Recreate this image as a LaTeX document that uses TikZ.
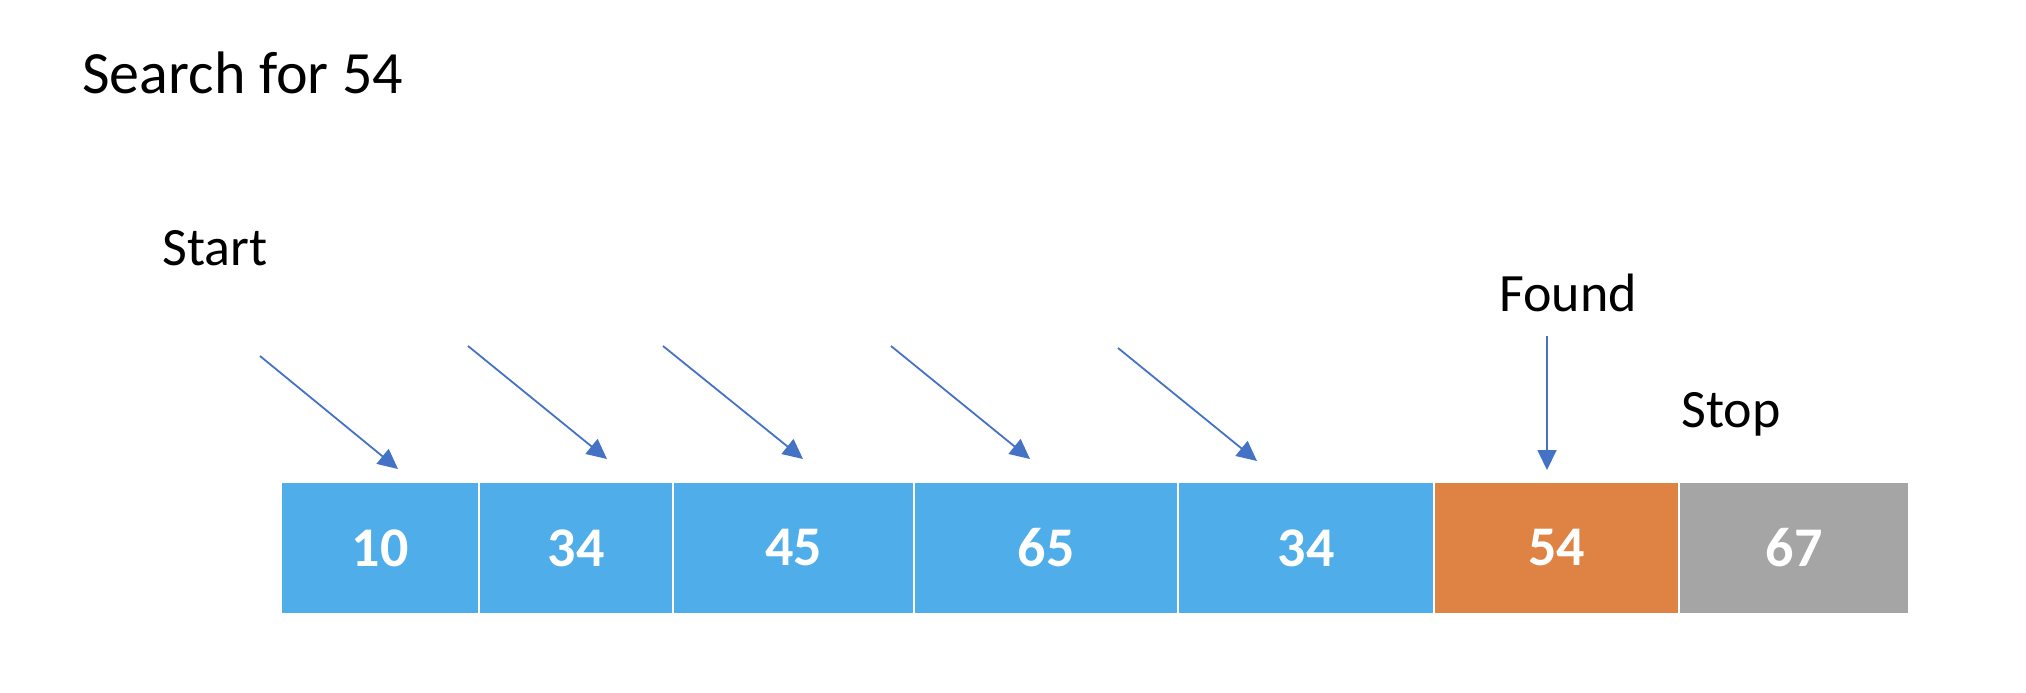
\documentclass[tikz,border=0pt]{standalone}
\usepackage{fontspec}
\setmainfont{Carlito}
\usetikzlibrary{arrows.meta}
\definecolor{cellblue}{RGB}{79,173,234}
\definecolor{cellorange}{RGB}{223,131,68}
\definecolor{cellgray}{RGB}{165,165,165}
\definecolor{arrowblue}{RGB}{68,114,196}
\begin{document}
\begin{tikzpicture}[x=0.5pt,y=-0.5pt,
  cell/.style={draw=white,line width=1pt,inner sep=0pt,outer sep=0pt,
    minimum height=66pt,text=white,font=\fontsize{28}{32}\selectfont\bfseries},
  ptr/.style={draw=arrowblue,line width=0.9pt,-{Triangle[length=10pt,width=9.5pt]}},
  lbl/.style={anchor=base west,inner sep=0pt,font=\fontsize{27}{31}\selectfont},
  title/.style={anchor=base west,inner sep=0pt,font=\fontsize{30}{34}\selectfont}]
\path[use as bounding box] (0,0) rectangle (2026,692);

\node[title] (ttl) at (82,93) {Search for 54};
\node[lbl] (start) at (162,265) {Start};
\node[lbl] (found) at (1499,311) {Found};
\node[lbl] (stop) at (1681,427) {Stop};

\node[cell,fill=cellblue,minimum width=99pt]    (b1) at (380,548) {10};
\node[cell,fill=cellblue,minimum width=97pt]    (b2) at (576,548) {34};
\node[cell,fill=cellblue,minimum width=120.5pt] (b3) at (793.5,548) {45};
\node[cell,fill=cellblue,minimum width=132pt]   (b4) at (1046,548) {65};
\node[cell,fill=cellblue,minimum width=128pt]   (b5) at (1306,548) {34};
\node[cell,fill=cellorange,minimum width=122.5pt] (b6) at (1556.5,548) {54};
\node[cell,fill=cellgray,minimum width=115pt]   (b7) at (1794,548) {67};

\coordinate (s1) at (260,356);  \coordinate (t1) at (398,469);
\coordinate (s2) at (468,346);  \coordinate (t2) at (607,459);
\coordinate (s3) at (663,346);  \coordinate (t3) at (803,459);
\coordinate (s4) at (891,346);  \coordinate (t4) at (1030,459);
\coordinate (s5) at (1118,348); \coordinate (t5) at (1257,461);
\coordinate (s6) at (1547,336); \coordinate (t6) at (1547,470);

\draw[ptr] (s1) -- (t1);
\draw[ptr] (s2) -- (t2);
\draw[ptr] (s3) -- (t3);
\draw[ptr] (s4) -- (t4);
\draw[ptr] (s5) -- (t5);
\draw[ptr] (s6) -- (t6);
\end{tikzpicture}
\end{document}
